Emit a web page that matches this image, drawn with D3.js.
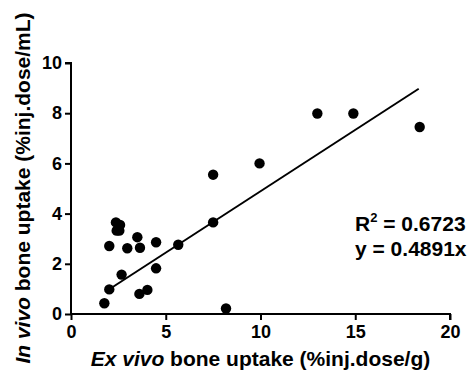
<!DOCTYPE html>
<html>
<head>
<meta charset="utf-8">
<script src="https://cdn.jsdelivr.net/npm/d3@7"></script>
<style>
  body { margin: 0; background: #fff; }
  text { font-family: Arial, 'Liberation Sans', sans-serif; font-weight: bold; fill: #000; }
</style>
</head>
<body>
<div id="chart"></div>
<script>
// ex vivo (%inj.dose/g) vs in vivo (%inj.dose/mL)
const exVivo = [13.0, 14.9, 18.4, 7.5, 9.95, 7.5, 1.76, 2.02, 2.02, 2.37, 2.59, 2.41, 2.55,
  2.67, 2.97, 3.5, 3.64, 3.61, 4.03, 4.49, 4.49, 5.66, 8.18];
const inVivo = [7.99, 7.99, 7.45, 5.55, 6.0, 3.65, 0.43, 0.98, 2.71, 3.65, 3.55, 3.32, 3.32,
  1.57, 2.62, 3.06, 2.64, 0.8, 0.96, 1.82, 2.86, 2.76, 0.22];
const slope = 0.4891;
const fitRange = [2.1, 18.35];
const xTicks = [0, 5, 10, 15, 20];
const yTicks = [0, 2, 4, 6, 8, 10];

const width = 468, height = 374;
const margin = { left: 71, top: 63, right: 18, bottom: 60 };

const svg = d3.select('#chart').append('svg')
  .attr('width', width)
  .attr('height', height);

const x = d3.scaleLinear().domain([0, 20]).range([margin.left, width - margin.right]);
const y = d3.scaleLinear().domain([0, 10]).range([height - margin.bottom, margin.top]);

const xAxis = svg.append('g')
  .attr('transform', 'translate(0,' + y(0) + ')')
  .call(d3.axisBottom(x).tickValues(xTicks).tickSize(6).tickPadding(5));
const yAxis = svg.append('g')
  .attr('transform', 'translate(' + x(0) + ',0)')
  .call(d3.axisLeft(y).tickValues(yTicks).tickSize(6).tickPadding(3));

[xAxis, yAxis].forEach(g => {
  g.select('.domain').attr('stroke', '#000').attr('stroke-width', 2);
  g.selectAll('.tick line').attr('stroke', '#000').attr('stroke-width', 2);
  g.selectAll('.tick text').style('font-size', '18px').style('font-weight', 'bold')
    .style('font-family', 'Arial, "Liberation Sans", sans-serif').attr('fill', '#000');
});
// no outer tick overhang past the last ticks
xAxis.select('.domain').attr('d', 'M' + x(0) + ',0H' + x(20) + 'V6');
yAxis.select('.domain').attr('d', 'M-6,' + y(10) + 'H0V' + y(0));

svg.append('line')
  .attr('x1', x(fitRange[0])).attr('y1', y(fitRange[0] * slope))
  .attr('x2', x(fitRange[1])).attr('y2', y(fitRange[1] * slope))
  .attr('stroke', '#000').attr('stroke-width', 2);

svg.append('g').selectAll('circle')
  .data(exVivo.map((d, i) => ({ x: d, y: inVivo[i] })))
  .enter()
  .append('circle')
  .attr('cx', d => x(d.x))
  .attr('cy', d => y(d.y))
  .attr('r', 5.2)
  .attr('fill', '#000');

// fit annotation
const ann = svg.append('text').attr('x', 355).attr('y', 231).style('font-size', '21px');
ann.append('tspan').text('R');
ann.append('tspan').attr('dy', -9).style('font-size', '13px').text('2');
ann.append('tspan').attr('dy', 9).text(' = 0.6723');
svg.append('text').attr('x', 355).attr('y', 256).style('font-size', '21px').text('y = 0.4891x');

const xl = svg.append('text')
  .attr('x', (x(0) + x(20)) / 2).attr('y', 366)
  .attr('text-anchor', 'middle').style('font-size', '21px');
xl.append('tspan').style('font-style', 'italic').text('Ex vivo');
xl.append('tspan').text(' bone uptake (%inj.dose/g)');

const yl = svg.append('text')
  .attr('transform', 'translate(30,' + 188 + ') rotate(-90)')
  .attr('text-anchor', 'middle').style('font-size', '21px');
yl.append('tspan').style('font-style', 'italic').text('In vivo');
yl.append('tspan').text(' bone uptake (%inj.dose/mL)');
</script>
</body>
</html>
